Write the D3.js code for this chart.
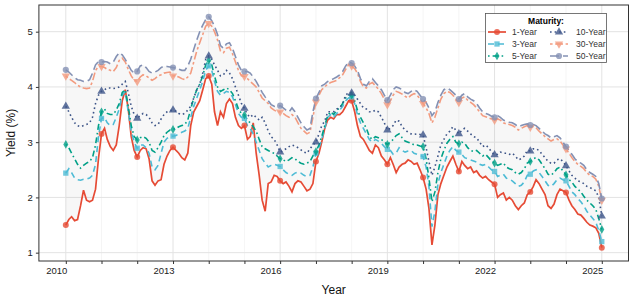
<!DOCTYPE html>
<html>
<head>
<meta charset="utf-8">
<script src="https://cdn.jsdelivr.net/npm/d3@7"></script>
<style>
  body { margin: 0; background: #fff; }
  svg { font-family: "Liberation Sans", Arial, sans-serif; }
</style>
</head>
<body>
<div id="chart"></div>
<script>
// monthly yields, Jan 2010 .. Jan 2025 (one row per year)
var y1 = [
  1.50, 1.60, 1.65, 1.58, 1.60, 1.85, 2.13, 1.95, 1.92, 1.95, 2.15, 2.70,
  3.15, 3.25, 3.05, 2.92, 2.85, 2.95, 3.30, 3.75, 3.95, 3.60, 3.10, 2.85,
  2.73, 2.85, 2.90, 2.88, 2.70, 2.30, 2.22, 2.30, 2.32, 2.60, 2.75, 2.85,
  2.91, 2.85, 2.80, 2.72, 2.68, 2.80, 3.30, 3.55, 3.65, 3.75, 3.95, 4.15,
  4.20, 4.05, 3.55, 3.30, 3.55, 3.45, 3.70, 3.78, 3.70, 3.45, 3.30, 3.25,
  3.30, 3.05, 3.10, 3.35, 2.80, 2.40, 1.95, 1.75, 2.25, 2.28, 2.40, 2.38,
  2.30, 2.25, 2.28, 2.20, 2.10, 2.25, 2.30, 2.28, 2.20, 2.12, 2.15, 2.25,
  2.65, 2.80, 3.00, 3.25, 3.40, 3.45, 3.42, 3.50, 3.50, 3.55, 3.65, 3.75,
  3.75, 3.55, 3.30, 3.10, 3.05, 2.95, 2.85, 2.80, 2.95, 2.90, 2.75, 2.68,
  2.60, 2.72, 2.60, 2.45, 2.55, 2.60, 2.62, 2.68, 2.65, 2.60, 2.62, 2.50,
  2.36, 2.15, 1.80, 1.14, 1.50, 2.05, 2.25, 2.40, 2.55, 2.65, 2.75, 2.60,
  2.47, 2.65, 2.58, 2.52, 2.55, 2.45, 2.48, 2.40, 2.35, 2.38, 2.32, 2.28,
  2.24, 2.00, 2.05, 2.08, 1.95, 2.00, 1.95, 1.85, 1.78, 1.85, 1.90, 2.05,
  2.10, 2.20, 2.32, 2.25, 2.15, 2.05, 1.85, 1.80, 1.88, 2.05, 2.15, 2.12,
  2.09, 1.95, 1.85, 1.78, 1.70, 1.68, 1.62, 1.55, 1.50, 1.48, 1.45, 1.35,
  1.09
];
var y3 = [
  2.44, 2.52, 2.45, 2.35, 2.32, 2.31, 2.33, 2.33, 2.35, 2.40, 2.60, 3.10,
  3.43, 3.45, 3.35, 3.30, 3.32, 3.45, 3.60, 3.85, 3.92, 3.55, 3.20, 3.00,
  2.89, 2.95, 2.95, 2.90, 2.80, 2.55, 2.50, 2.58, 2.80, 3.00, 3.07, 3.10,
  3.11, 3.12, 3.15, 3.18, 3.20, 3.25, 3.45, 3.65, 3.80, 3.95, 4.10, 4.30,
  4.38, 4.30, 4.10, 3.92, 3.85, 3.88, 3.92, 3.90, 3.82, 3.68, 3.52, 3.45,
  3.43, 3.30, 3.25, 3.15, 3.00, 2.85, 2.70, 2.62, 2.55, 2.58, 2.60, 2.58,
  2.56, 2.50, 2.45, 2.42, 2.40, 2.44, 2.46, 2.44, 2.40, 2.38, 2.40, 2.55,
  2.80, 2.90, 3.05, 3.25, 3.45, 3.50, 3.45, 3.52, 3.58, 3.65, 3.75, 3.80,
  3.82, 3.70, 3.50, 3.35, 3.25, 3.15, 3.05, 3.00, 3.05, 3.02, 2.98, 2.92,
  2.87, 2.85, 2.78, 2.80, 2.90, 2.85, 2.82, 2.84, 2.85, 2.80, 2.78, 2.76,
  2.74, 2.55, 2.20, 1.47, 1.75, 2.25, 2.45, 2.60, 2.75, 2.85, 2.92, 2.85,
  2.82, 2.78, 2.72, 2.70, 2.68, 2.66, 2.64, 2.60, 2.58, 2.60, 2.55, 2.50,
  2.47, 2.38, 2.40, 2.42, 2.35, 2.32, 2.30, 2.25, 2.20, 2.22, 2.28, 2.40,
  2.42, 2.48, 2.50, 2.45, 2.38, 2.30, 2.22, 2.20, 2.25, 2.32, 2.35, 2.32,
  2.30, 2.20, 2.10, 2.05, 1.98, 1.92, 1.85, 1.75, 1.68, 1.62, 1.55, 1.40,
  1.20
];
var y5 = [
  2.96, 2.90, 2.80, 2.70, 2.60, 2.53, 2.58, 2.62, 2.65, 2.72, 2.95, 3.30,
  3.55, 3.60, 3.52, 3.50, 3.50, 3.58, 3.70, 3.90, 3.95, 3.65, 3.30, 3.10,
  3.04, 3.08, 3.10, 3.07, 3.00, 2.85, 2.82, 2.90, 3.00, 3.12, 3.18, 3.22,
  3.23, 3.25, 3.28, 3.30, 3.32, 3.40, 3.60, 3.80, 3.95, 4.05, 4.20, 4.40,
  4.48, 4.40, 4.20, 4.00, 3.92, 3.95, 3.98, 3.95, 3.88, 3.75, 3.60, 3.52,
  3.49, 3.40, 3.35, 3.28, 3.20, 3.05, 2.92, 2.88, 2.85, 2.82, 2.80, 2.75,
  2.70, 2.68, 2.65, 2.68, 2.72, 2.70, 2.65, 2.62, 2.60, 2.62, 2.65, 2.75,
  2.83, 2.95, 3.10, 3.30, 3.48, 3.55, 3.50, 3.58, 3.62, 3.70, 3.80, 3.85,
  3.85, 3.75, 3.58, 3.45, 3.35, 3.25, 3.10, 3.05, 3.10, 3.08, 3.05, 3.00,
  2.96, 3.00, 3.05, 3.12, 3.15, 3.08, 3.02, 3.00, 2.98, 2.95, 2.95, 2.93,
  2.92, 2.70, 2.35, 1.92, 2.10, 2.45, 2.70, 2.85, 2.98, 3.05, 3.10, 3.00,
  2.97, 3.00, 2.98, 2.90, 2.85, 2.83, 2.85, 2.80, 2.75, 2.78, 2.72, 2.66,
  2.62, 2.58, 2.60, 2.62, 2.55, 2.52, 2.50, 2.45, 2.42, 2.45, 2.52, 2.62,
  2.65, 2.70, 2.72, 2.68, 2.60, 2.52, 2.42, 2.40, 2.45, 2.52, 2.55, 2.48,
  2.41, 2.32, 2.28, 2.20, 2.15, 2.10, 2.02, 1.95, 1.90, 1.85, 1.78, 1.62,
  1.42
];
var y10 = [
  3.65, 3.55, 3.45, 3.35, 3.30, 3.28, 3.30, 3.32, 3.35, 3.45, 3.70, 3.85,
  3.92, 3.95, 3.98, 3.98, 3.97, 3.98, 4.00, 4.05, 4.10, 3.90, 3.65, 3.50,
  3.43, 3.48, 3.52, 3.50, 3.45, 3.35, 3.30, 3.32, 3.42, 3.50, 3.55, 3.57,
  3.58, 3.56, 3.52, 3.50, 3.52, 3.58, 3.65, 3.80, 3.95, 4.05, 4.25, 4.50,
  4.56, 4.50, 4.40, 4.30, 4.20, 4.22, 4.30, 4.25, 4.15, 4.00, 3.85, 3.70,
  3.61, 3.50, 3.45, 3.50, 3.45, 3.40, 3.45, 3.35, 3.20, 3.10, 3.05, 2.95,
  2.82, 2.85, 2.88, 2.92, 2.95, 2.93, 2.90, 2.86, 2.82, 2.80, 2.88, 2.95,
  3.00, 3.15, 3.30, 3.38, 3.55, 3.55, 3.55, 3.60, 3.62, 3.70, 3.85, 3.90,
  3.89, 3.85, 3.78, 3.70, 3.62, 3.60, 3.55, 3.55, 3.58, 3.55, 3.45, 3.35,
  3.22, 3.25, 3.30, 3.40, 3.38, 3.28, 3.22, 3.18, 3.15, 3.14, 3.15, 3.14,
  3.13, 2.90, 2.65, 2.40, 2.55, 2.75, 2.95, 3.05, 3.15, 3.20, 3.28, 3.22,
  3.15, 3.22, 3.25, 3.20, 3.15, 3.10, 3.08, 3.00, 2.92, 2.95, 2.90, 2.82,
  2.77, 2.78, 2.82, 2.80, 2.80, 2.78, 2.80, 2.75, 2.68, 2.70, 2.75, 2.85,
  2.84, 2.88, 2.88, 2.85, 2.78, 2.72, 2.65, 2.62, 2.62, 2.68, 2.70, 2.65,
  2.57, 2.48, 2.40, 2.35, 2.30, 2.28, 2.25, 2.20, 2.18, 2.15, 2.12, 2.00,
  1.66
];
var y30 = [
  4.20, 4.15, 4.12, 4.08, 4.03, 4.00, 3.98, 3.97, 3.98, 4.10, 4.30, 4.37,
  4.37, 4.35, 4.32, 4.30, 4.28, 4.35, 4.48, 4.52, 4.45, 4.32, 4.20, 4.12,
  4.10, 4.18, 4.22, 4.20, 4.16, 4.12, 4.15, 4.20, 4.22, 4.25, 4.26, 4.27,
  4.20, 4.20, 4.18, 4.15, 4.13, 4.18, 4.25, 4.45, 4.65, 4.80, 4.95, 5.10,
  5.15, 5.10, 5.00, 4.85, 4.65, 4.62, 4.70, 4.72, 4.60, 4.45, 4.30, 4.20,
  4.19, 4.15, 4.10, 4.05, 4.00, 3.90, 3.80, 3.75, 3.70, 3.62, 3.58, 3.55,
  3.55, 3.52, 3.48, 3.45, 3.50, 3.45, 3.35, 3.25, 3.20, 3.15, 3.18, 3.45,
  3.73, 3.85, 3.95, 4.00, 4.05, 4.08, 4.10, 4.12, 4.17, 4.22, 4.32, 4.40,
  4.38, 4.33, 4.25, 4.10, 4.00, 3.98, 4.05, 4.08, 4.02, 3.96, 3.88, 3.78,
  3.68, 3.75, 3.85, 3.92, 3.90, 3.87, 3.83, 3.80, 3.85, 3.88, 3.85, 3.78,
  3.70, 3.62, 3.52, 3.35, 3.45, 3.62, 3.78, 3.88, 3.92, 3.90, 3.85, 3.78,
  3.72, 3.80, 3.82, 3.76, 3.72, 3.68, 3.62, 3.55, 3.48, 3.46, 3.44, 3.42,
  3.40, 3.42, 3.40, 3.35, 3.33, 3.32, 3.30, 3.27, 3.22, 3.25, 3.28, 3.30,
  3.27, 3.28, 3.26, 3.20, 3.15, 3.10, 3.06, 3.02, 3.05, 3.06, 3.02, 2.95,
  2.88, 2.80, 2.72, 2.65, 2.60, 2.56, 2.52, 2.45, 2.40, 2.38, 2.33, 2.20,
  1.95
];
var y50 = [
  4.31, 4.27, 4.22, 4.17, 4.13, 4.12, 4.10, 4.10, 4.13, 4.25, 4.40, 4.46,
  4.45, 4.46, 4.45, 4.42, 4.45, 4.55, 4.62, 4.58, 4.50, 4.40, 4.30, 4.25,
  4.28, 4.38, 4.40, 4.35, 4.28, 4.25, 4.27, 4.30, 4.35, 4.38, 4.37, 4.36,
  4.35, 4.34, 4.32, 4.30, 4.30, 4.38, 4.50, 4.68, 4.85, 5.00, 5.12, 5.22,
  5.27, 5.20, 5.10, 4.95, 4.75, 4.70, 4.78, 4.80, 4.70, 4.55, 4.40, 4.30,
  4.28, 4.28, 4.25, 4.18, 4.10, 4.00, 3.90, 3.82, 3.75, 3.68, 3.65, 3.64,
  3.66, 3.62, 3.58, 3.55, 3.62, 3.55, 3.45, 3.35, 3.28, 3.22, 3.25, 3.55,
  3.79, 3.90, 4.02, 4.05, 4.10, 4.12, 4.15, 4.18, 4.22, 4.28, 4.38, 4.45,
  4.43, 4.38, 4.30, 4.15, 4.05, 4.02, 4.10, 4.15, 4.08, 4.02, 3.95, 3.85,
  3.76, 3.85, 3.95, 4.00, 3.98, 3.95, 3.90, 3.88, 3.92, 3.95, 3.92, 3.85,
  3.78, 3.72, 3.62, 3.48, 3.55, 3.72, 3.85, 3.95, 3.98, 3.95, 3.90, 3.85,
  3.78, 3.85, 3.88, 3.82, 3.78, 3.75, 3.70, 3.62, 3.55, 3.52, 3.50, 3.47,
  3.45, 3.48, 3.45, 3.40, 3.38, 3.36, 3.35, 3.32, 3.28, 3.30, 3.32, 3.33,
  3.31, 3.32, 3.30, 3.25, 3.20, 3.15, 3.12, 3.08, 3.10, 3.12, 3.08, 3.00,
  2.92, 2.85, 2.78, 2.70, 2.65, 2.62, 2.58, 2.50, 2.45, 2.42, 2.38, 2.25,
  1.98
];

var maturities = ["1-Year", "3-Year", "5-Year", "10-Year", "30-Year", "50-Year"];
var values = [y1, y3, y5, y10, y30, y50];
var colors = ["#E64B35", "#4DBBD5", "#00A087", "#3C5488", "#F39B7F", "#8491B4"];
var dashes = [null, "6,4", "1.6,3,6,3", "1.6,3", "2.6,2.6,7.8,2.6", "9,4"];
var shapes = [d3.symbolCircle, d3.symbolSquare, d3.symbolDiamond, d3.symbolTriangle, "down", d3.symbolCircle];
var xTickYears = [2010, 2013, 2016, 2019, 2022, 2025];
var yTicks = [1, 2, 3, 4, 5];

var months = d3.timeMonth.range(new Date(2010, 0, 1), new Date(2025, 1, 1));

var W = 635, H = 302;
var margin = { top: 5, right: 6.5, bottom: 41, left: 38.9 };
var width = W - margin.left - margin.right,
  height = H - margin.top - margin.bottom;

var svg = d3.select("#chart").append("svg")
  .attr("width", W).attr("height", H);

var g = svg.append("g")
  .attr("transform", "translate(" + margin.left + "," + margin.top + ")");

var x = d3.scaleTime()
  .domain([new Date(2009, 3, 1), new Date(2025, 9, 1)])
  .range([0, width]);
var y = d3.scaleLinear().domain([0.849, 5.483]).range([height, 0]);

// grid
var allYears = d3.range(2010, 2026).map(function (yr) { return new Date(yr, 0, 1); });
g.append("g").selectAll("line.vg")
  .data(allYears).enter().append("line")
  .attr("x1", function (d) { return x(d); }).attr("x2", function (d) { return x(d); })
  .attr("y1", 0).attr("y2", height)
  .style("stroke", function (d) { return xTickYears.indexOf(d.getFullYear()) >= 0 ? "#e3e3e3" : "#efefef"; })
  .style("stroke-width", function (d) { return xTickYears.indexOf(d.getFullYear()) >= 0 ? 1 : 0.6; });
g.append("g").selectAll("line.hg")
  .data(yTicks).enter().append("line")
  .attr("x1", 0).attr("x2", width)
  .attr("y1", function (d) { return y(d); }).attr("y2", function (d) { return y(d); })
  .style("stroke", "#e3e3e3").style("stroke-width", 1);

// ribbon between lowest and highest curve
var ribbon = d3.area()
  .x(function (d, i) { return x(months[i]); })
  .y0(function (d, i) { return y(d3.min(values, function (s) { return s[i]; })); })
  .y1(function (d, i) { return y(d3.max(values, function (s) { return s[i]; })); });
g.append("path").datum(months)
  .attr("d", ribbon)
  .style("fill", "#8c8c8c").style("fill-opacity", 0.07);

var line = d3.line()
  .x(function (d, i) { return x(months[i]); })
  .y(function (d) { return y(d); });

function symbolPath(shape, size) {
  if (shape === "down") return d3.symbol().type(d3.symbolTriangle).size(size)();
  return d3.symbol().type(shape).size(size)();
}
function symbolRot(shape) { return shape === "down" ? " rotate(180)" : ""; }
var symSize = [28, 28, 22, 30, 30, 30];

values.forEach(function (s, k) {
  g.append("path").datum(s)
    .attr("d", line)
    .style("fill", "none")
    .style("stroke", colors[k])
    .style("stroke-width", k === 0 ? 1.7 : 1.6)
    .style("stroke-dasharray", dashes[k]);
});

values.forEach(function (s, k) {
  g.append("g").selectAll("path")
    .data(s.filter(function (d, i) { return i % 12 === 0; }))
    .enter().append("path")
    .attr("d", symbolPath(shapes[k], symSize[k]))
    .attr("transform", function (d, i) {
      return "translate(" + x(months[i * 12]) + "," + y(d) + ")" + symbolRot(shapes[k]);
    })
    .style("fill", colors[k]).style("fill-opacity", 0.8);
});

// panel border
g.append("rect").attr("x", 0).attr("y", 0)
  .attr("width", width).attr("height", height)
  .style("fill", "none").style("stroke", "#333").style("stroke-width", 1);

// axes (year labels sit just left of their tick, as in the original)
var xAxis = d3.axisBottom(x).tickValues(allYears).tickSize(3)
  .tickFormat(function (d) { return xTickYears.indexOf(d.getFullYear()) >= 0 ? d.getFullYear() : ""; });
var gx = g.append("g").attr("transform", "translate(0," + height + ")").call(xAxis);
gx.select(".domain").remove();
gx.selectAll("line").style("stroke", "#333");
gx.selectAll("text").style("font-size", "9.5px").style("fill", "#222")
  .attr("text-anchor", "end").attr("x", 1).attr("dy", "0.71em");

var yAxis = d3.axisLeft(y).tickValues(yTicks).tickSize(3).tickFormat(d3.format("d"));
var gy = g.append("g").call(yAxis);
gy.select(".domain").remove();
gy.selectAll("line").style("stroke", "#333");
gy.selectAll("text").style("font-size", "9.5px").style("fill", "#222");

svg.append("text").attr("x", margin.left + width / 2).attr("y", 294)
  .attr("text-anchor", "middle").style("font-size", "12px").style("fill", "#111").text("Year");
svg.append("text").attr("transform", "translate(15," + (margin.top + height / 2) + ") rotate(-90)")
  .attr("text-anchor", "middle").style("font-size", "12px").style("fill", "#111").text("Yield (%)");

// legend
var lg = svg.append("g");
lg.append("rect").attr("x", 485.5).attr("y", 13.5).attr("width", 121).attr("height", 49)
  .style("fill", "#fff").style("stroke", "#555").style("stroke-width", 0.8);
lg.append("text").attr("x", 546).attr("y", 23.5).attr("text-anchor", "middle")
  .style("font-size", "8.5px").style("font-weight", "bold").text("Maturity:");
maturities.forEach(function (m, k) {
  var col = Math.floor(k / 3), row = k % 3;
  var kx = col === 0 ? 488 : 550, ky = 32 + row * 12;
  lg.append("line").attr("x1", kx).attr("x2", kx + 18).attr("y1", ky).attr("y2", ky)
    .style("stroke", colors[k]).style("stroke-width", k === 0 ? 1.7 : 1.6)
    .style("stroke-dasharray", dashes[k]);
  lg.append("path").attr("d", symbolPath(shapes[k], symSize[k]))
    .attr("transform", "translate(" + (kx + 9) + "," + ky + ")" + symbolRot(shapes[k]))
    .style("fill", colors[k]).style("fill-opacity", 0.8);
  lg.append("text").attr("x", col === 0 ? 512 : 576).attr("y", ky + 3)
    .style("font-size", "8.5px").style("fill", "#333").text(m);
});
</script>
</body>
</html>
